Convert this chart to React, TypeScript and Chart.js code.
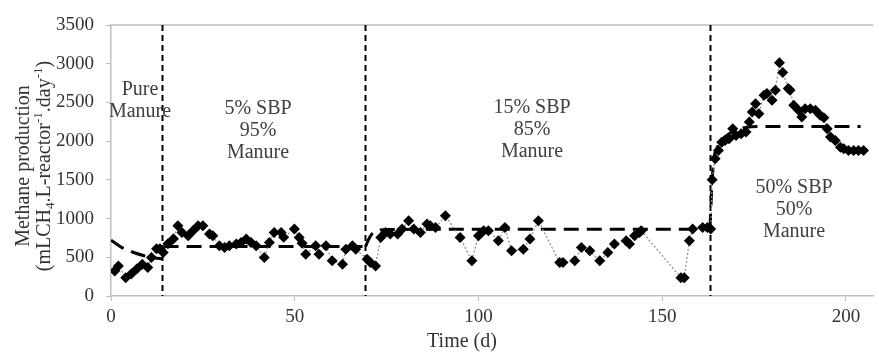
import React, { useEffect, useRef } from "react";
import { Chart, registerables } from "chart.js";
Chart.register(...registerables);

// Measured methane production (mL CH4 / L-reactor / day)
const days = [
  1, 2, 4, 5.5, 7, 8.5, 10, 11, 12.4, 13.3, 14.2,
  15.5, 17, 18.2, 19.3, 21, 22.3, 23.7, 25, 26.8, 27.7, 29.5, 30.9, 32.2, 34.1, 35.4, 36.8, 38.1,
  39.5, 41.7, 43.1, 44.4, 46.3, 47, 49.9, 51.2, 52, 53, 55.7, 56.6, 58.5, 60.2, 63, 63.9, 65.7, 66.6,
  69.7, 70.6, 72, 73.4, 74.7, 76, 78, 79.2, 81, 82.4, 84.2, 86, 86.9, 88.3, 91, 95, 98.2, 100,
  101.4, 102.7, 105.4, 107.2, 109, 112.2, 114, 116.3, 122.1, 123, 126.2, 128, 130.3, 133, 135.2,
  137, 140.2, 141.1, 142.5, 143.8, 144.3, 155.1, 156, 157.4, 158.3, 161, 162.3, 163.2,
  163.6, 164.4, 165.3, 166.2, 167.1, 168.2, 169.2, 170.1, 171.5, 172.8, 173.7, 174.5, 175.4, 176.3,
  177.7, 178.5, 179.9, 180.8, 181.9, 182.8, 184.3, 184.8, 185.8, 187.1, 188, 188.9, 190.3, 191.7,
  193, 194, 194.9, 195.8, 197.1, 198.5, 199.4, 200.7, 202.1, 203.4, 204.8,
];
const methane = [
  324, 389, 237, 285, 350, 410, 367, 496, 609, 609, 562,
  674, 739, 907, 821, 778, 842, 907, 907, 800, 778, 648, 626, 648, 670, 691, 735, 691,
  648, 496, 691, 821, 821, 760, 864, 756, 680, 540, 648, 540, 648, 454, 411, 605, 648, 605,
  475, 432, 389, 756, 821, 800, 800, 864, 972, 864, 821, 929, 907, 886, 1037, 756, 454, 778,
  842, 842, 713, 886, 583, 605, 735, 972, 432, 432, 454, 626, 583, 454, 562,
  670, 713, 670, 778, 821, 842, 237, 237, 713, 864, 886, 886, 864,
  1500, 1772, 1879, 1987, 2009, 2030, 2160, 2074, 2095, 2117, 2246, 2376, 2484, 2354,
  2592, 2614, 2527, 2657, 3011, 2886, 2679, 2657, 2462, 2398, 2311, 2419, 2419, 2398,
  2333, 2303, 2160, 2052, 2009, 1922, 1901, 1879, 1879, 1879, 1879,
];

// Model (dashed) curves per phase
const model1Days = [0, 3, 6, 9, 12, 14];
const model1Vals = [720, 625, 565, 520, 490, 480];
const model2Days = [14.3, 69];
const model2Vals = [640, 640];
const model3Days = [69.3, 70, 71, 72.5, 75, 163];
const model3Vals = [640, 720, 800, 845, 860, 862];
const model4Days = [163, 163.5, 164, 165, 166.5, 168, 170, 173, 176, 204];
const model4Vals = [870, 1400, 1750, 1920, 2030, 2090, 2140, 2180, 2190, 2190];

// Phase boundaries and labels
const phaseBounds = [14, 69, 163];
const phaseLabels = [
  { lines: ["Pure", "Manure"], x: 140, y: 90 },
  { lines: ["5% SBP", "95%", "Manure"], x: 258, y: 109 },
  { lines: ["15% SBP", "85%", "Manure"], x: 532, y: 108 },
  { lines: ["50% SBP", "50%", "Manure"], x: 794, y: 188 },
];

const xTitle = "Time (d)";
const yTitle1 = "Methane production";
// second y-title line as rich text: [text, kind]  kind: n = normal, sub, sup
const yTitle2: [string, string][] = [
  ["(mLCH", "n"], ["4", "sub"], [".L-reactor", "n"], ["-1", "sup"], [".day", "n"], ["-1", "sup"], [")", "n"],
];

const FONT = "'Liberation Serif', 'Times New Roman', serif";

const pts = (xs: number[], ys: number[]) => xs.map((x, i) => ({ x, y: ys[i] }));

function drawVertical(ctx: CanvasRenderingContext2D, segs: [string, string][], baseX: number, cy: number) {
  const widths = segs.map(([t, k]) => {
    ctx.font = k === "n" ? `20px ${FONT}` : `13px ${FONT}`;
    return ctx.measureText(t).width;
  });
  const total = widths.reduce((a, b) => a + b, 0);
  ctx.save();
  ctx.translate(baseX, cy);
  ctx.rotate(-Math.PI / 2);
  ctx.textAlign = "left";
  ctx.textBaseline = "alphabetic";
  let x = -total / 2;
  segs.forEach(([t, k], i) => {
    ctx.font = k === "n" ? `20px ${FONT}` : `13px ${FONT}`;
    const dy = k === "sub" ? 4 : k === "sup" ? -8 : 0;
    ctx.fillText(t, x, dy);
    x += widths[i];
  });
  ctx.restore();
}

export default function App() {
  const ref = useRef<HTMLCanvasElement>(null);
  useEffect(() => {
    document.body.style.margin = "0";
    const canvas = ref.current!;
    const modelStyle = {
      borderColor: "#000",
      borderWidth: 3,
      borderDash: [15, 8],
      pointRadius: 0,
      showLine: true,
      cubicInterpolationMode: "monotone" as const,
      order: 5,
    };
    const overlay = {
      id: "overlay",
      beforeDatasetsDraw(chart: any) {
        const { ctx, chartArea, scales } = chart;
        ctx.save();
        // top border of plot area
        ctx.strokeStyle = "#bfbfbf";
        ctx.lineWidth = 1.5;
        ctx.beginPath();
        ctx.moveTo(chartArea.left, chartArea.top);
        ctx.lineTo(chartArea.right, chartArea.top);
        ctx.stroke();
        ctx.strokeStyle = "#000";
        ctx.lineWidth = 2;
        ctx.setLineDash([6, 4]);
        phaseBounds.forEach((d) => {
          const px = Math.round(scales.x.getPixelForValue(d)) + 0.5;
          ctx.beginPath();
          ctx.moveTo(px, chartArea.top);
          ctx.lineTo(px, chartArea.bottom);
          ctx.stroke();
        });
        ctx.restore();
      },
      afterDraw(chart: any) {
        const { ctx } = chart;
        ctx.save();
        ctx.fillStyle = "#404040";
        ctx.font = `20px ${FONT}`;
        ctx.textAlign = "center";
        ctx.textBaseline = "middle";
        phaseLabels.forEach((p) => {
          p.lines.forEach((l, i) => ctx.fillText(l, p.x, p.y + i * 22));
        });
        ctx.fillStyle = "#333";
        ctx.fillText(xTitle, 462, 342);
        drawVertical(ctx, [[yTitle1, "n"]], 29, 166);
        drawVertical(ctx, yTitle2, 50, 166);
        ctx.restore();
      },
    };
    const chart = new Chart(canvas, {
      type: "scatter",
      data: {
        datasets: [
          {
            data: pts(days, methane),
            showLine: true,
            borderColor: "#8c8c8c",
            borderWidth: 1.2,
            borderDash: [2, 2],
            pointStyle: "rectRot",
            pointRadius: 5.5,
            pointBackgroundColor: "#000",
            pointBorderColor: "#000",
            pointBorderWidth: 0,
            order: 0,
          },
          { data: pts(model1Days, model1Vals), ...modelStyle },
          { data: pts(model2Days, model2Vals), ...modelStyle },
          { data: pts(model3Days, model3Vals), ...modelStyle },
          { data: pts(model4Days, model4Vals), ...modelStyle },
        ] as any,
      },
      options: {
        animation: false,
        responsive: false,
        devicePixelRatio: 1,
        layout: { padding: { top: 25, right: 2, left: 0, bottom: 0 } },
        plugins: { legend: { display: false }, tooltip: { enabled: false } },
        scales: {
          x: {
            type: "linear",
            min: 0,
            max: 207.5,
            ticks: {
              stepSize: 50,
              includeBounds: false,
              maxRotation: 0,
              padding: 5,
              color: "#333",
              font: { family: FONT, size: 19 },
              callback: (v: any) => String(v),
            },
            afterBuildTicks: (s: any) => {
              s.ticks = s.ticks.filter((t: any) => t.value % 50 === 0);
            },
            grid: { drawOnChartArea: false, tickLength: 5, color: "#bfbfbf" },
            border: { color: "#bfbfbf", width: 1.5 },
            afterFit: (s: any) => {
              s.height = 58;
            },
          },
          y: {
            min: 0,
            max: 3500,
            ticks: {
              stepSize: 500,
              padding: 12,
              color: "#333",
              font: { family: FONT, size: 19 },
              callback: (v: any) => String(v),
            },
            grid: { drawOnChartArea: false, tickLength: 5, color: "#bfbfbf" },
            border: { color: "#bfbfbf", width: 1.5 },
            afterFit: (s: any) => {
              s.width = 111;
            },
          },
        },
      } as any,
      plugins: [overlay],
    });
    return () => chart.destroy();
  }, []);
  return (
    <div style={{ width: 879, height: 354 }}>
      <canvas ref={ref} width={879} height={354} style={{ display: "block" }} />
    </div>
  );
}
